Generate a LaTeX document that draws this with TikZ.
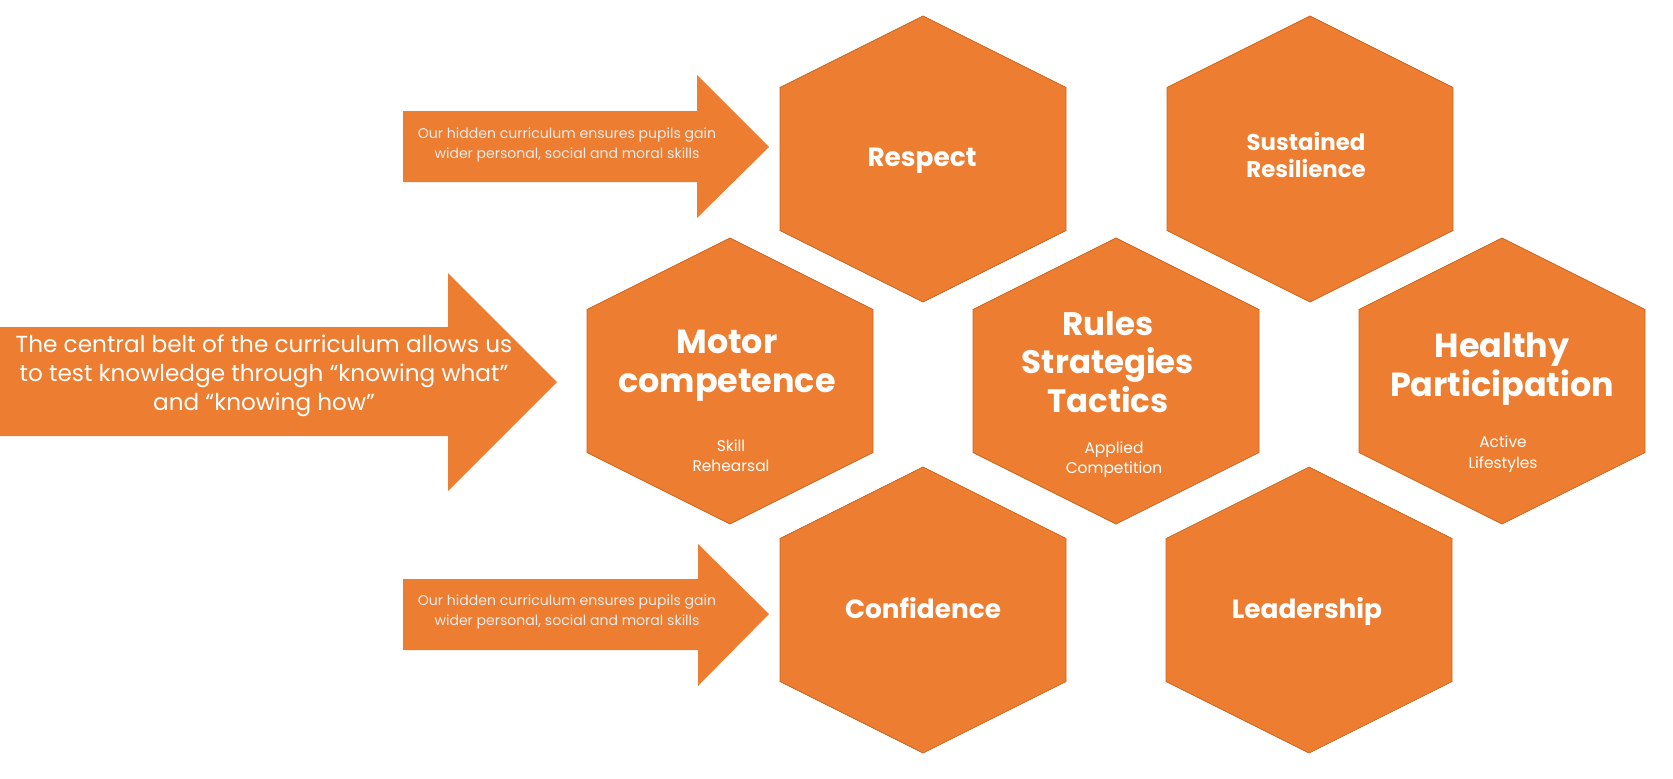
\documentclass[tikz,border=0pt]{standalone}
\usepackage{fontspec}
\setmainfont{Poppins}
\usepackage{xcolor}
\definecolor{hexorange}{HTML}{ED7D31}
\definecolor{hexedge}{HTML}{C9661F}
\definecolor{lightwhite}{HTML}{ECECEC}

\begin{document}
\begin{tikzpicture}[x=0.02cm, y=-0.02cm,
        hexfill/.style={fill=hexorange, draw=hexedge, line width=0.4pt},
        arrowfill/.style={fill=hexorange},
        bigtitle/.style={text=white, align=center, font=\bfseries\fontsize{19}{22}\selectfont},
        midtitle/.style={text=white, align=center, font=\bfseries\fontsize{15}{16}\selectfont},
        subtitle/.style={text=white, align=center, font=\fontsize{8.8}{11.5}\selectfont},
        beltnote/.style={text=white, align=center, font=\fontsize{13.2}{16.6}\selectfont},
        hiddennote/.style={text=lightwhite, align=center, font=\fontsize{8}{11}\selectfont}]
        \def\hr{143}
        \def\hh{71.5}

        \useasboundingbox (0,0) rectangle (1673,778);

        % hexagon cells
        \foreach \cx/\cy in {730/381, 923/159, 1116/381, 1310/159, 1502/381, 923/610, 1309/610}
            \draw[hexfill] (\cx,\cy) +(0,-\hr) -- +(\hr,-\hh) -- +(\hr,\hh) -- +(0,\hr) -- +(-\hr,\hh) -- +(-\hr,-\hh) -- cycle;

        % block arrows
        \fill[arrowfill] (0,327) -- (448,327) -- (448,273) -- (557,382) -- (448,491) -- (448,436) -- (0,436) -- cycle;
        \fill[arrowfill] (403,111) -- (697,111) -- (697,75) -- (769,147) -- (697,218) -- (697,182) -- (403,182) -- cycle;
        \fill[arrowfill] (403,579) -- (698,579) -- (698,544) -- (769,614) -- (698,686) -- (698,650) -- (403,650) -- cycle;

        \node[beltnote] (belt) at (264,376) {The central belt of the curriculum allows us\\to test knowledge through “knowing what”\\and “knowing how”};
        \node[hiddennote] (hiddenup) at (567,145) {Our hidden curriculum ensures pupils gain\\wider personal, social and moral skills};
        \node[hiddennote] (hiddendown) at (567,612) {Our hidden curriculum ensures pupils gain\\wider personal, social and moral skills};

        \node[midtitle] (respect) at (922,161) {Respect};
        \node[midtitle, font=\bfseries\fontsize{13}{15.5}\selectfont] (resilience) at (1306,155) {Sustained\\Resilience};
        \node[bigtitle] (motor) at (727,366) {Motor\\competence};
        \node[subtitle] (skill) at (731,456) {Skill\\Rehearsal};
        \node[bigtitle, font=\bfseries\fontsize{18.5}{22}\selectfont] (rules) at (1108,362) {Rules\\Strategies\\Tactics};
        \node[subtitle] (applied) at (1114,460) {Applied\\Competition};
        \node[bigtitle] (healthy) at (1502,369) {Healthy\\Participation};
        \node[subtitle] (active) at (1503,454) {Active\\Lifestyles};
        \node[midtitle] (confidence) at (923,608) {Confidence};
        \node[midtitle] (leadership) at (1307,611) {Leadership};
\end{tikzpicture}
\end{document}
